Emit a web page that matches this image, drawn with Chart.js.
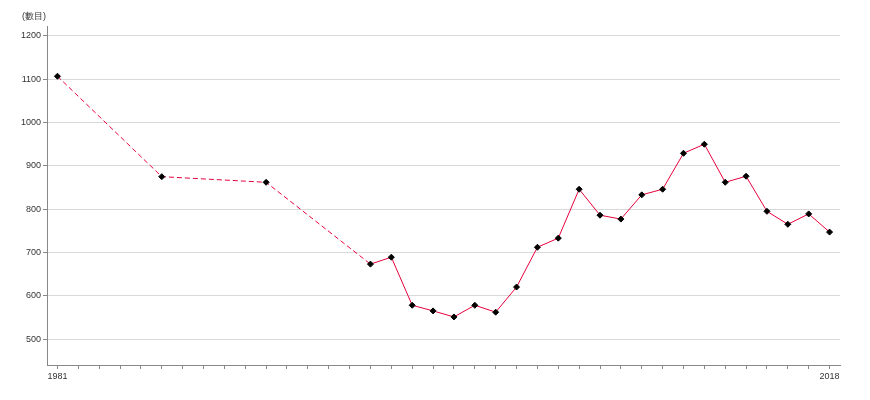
<!DOCTYPE html>
<html>
<head>
<meta charset="utf-8">
<script src="https://cdn.jsdelivr.net/npm/chart.js@4"></script>
<style>
html,body{margin:0;padding:0;background:#fff;}
#wrap{position:relative;width:870px;height:400px;}
</style>
</head>
<body>
<div id="wrap"><canvas id="c" width="870" height="400"></canvas></div>
<script>
const years = [1981, 1986, 1991, 1996, 1997, 1998, 1999, 2000, 2001, 2002, 2003, 2004, 2005, 2006, 2007, 2008, 2009, 2010, 2011, 2012, 2013, 2014, 2015, 2016, 2017, 2018];
const values = [1107, 875, 862, 673, 689, 578, 565, 551, 578, 562, 620, 712, 733, 846, 786, 777, 833, 846, 929, 950, 862, 876, 795, 765, 789, 747];
const yTicks = [500, 600, 700, 800, 900, 1000, 1100, 1200];
const xLabels = [1981, 2018];
const unitLabel = '(數目)';

const FONT = 'Liberation Sans';
const points = years.map((y, i) => ({x: y, y: values[i]}));
const allYears = [];
for (let y = years[0]; y <= years[years.length - 1]; y++) allYears.push(y);

const unitPlugin = {
  id: 'unit',
  afterDraw(chart) {
    const ctx = chart.ctx;
    ctx.save();
    ctx.font = '9px "' + FONT + '"';
    ctx.fillStyle = '#333';
    ctx.textAlign = 'left';
    ctx.textBaseline = 'middle';
    ctx.fillText(unitLabel, 22, 17);
    ctx.restore();
  }
};

new Chart(document.getElementById('c'), {
  type: 'line',
  data: {
    datasets: [{
      data: points,
      borderColor: '#e8003d',
      borderWidth: 1,
      pointStyle: 'rectRot',
      pointRadius: 3,
      pointBackgroundColor: '#000',
      pointBorderColor: '#000',
      pointBorderWidth: 1,
      tension: 0,
      segment: {
        borderDash: ctx => (ctx.p1.parsed.x - ctx.p0.parsed.x > 1 ? [5, 3] : undefined)
      }
    }]
  },
  options: {
    responsive: false,
    animation: false,
    layout: {padding: {top: 26, right: 30, left: 0, bottom: 0}},
    plugins: {legend: {display: false}, tooltip: {enabled: false}},
    scales: {
      x: {
        type: 'linear',
        min: 1980.5,
        max: 2018.5,
        afterBuildTicks: s => { s.ticks = allYears.map(v => ({value: v})); },
        afterFit: s => { s.height = 35; },
        grid: {drawOnChartArea: false, drawTicks: true, tickLength: 4, color: '#888'},
        border: {color: '#888', width: 1},
        ticks: {
          autoSkip: false,
          maxRotation: 0,
          padding: 2,
          color: '#333',
          font: {family: FONT, size: 9},
          callback: v => (xLabels.includes(v) ? String(v) : '')
        }
      },
      y: {
        min: 440,
        max: 1223,
        afterBuildTicks: s => { s.ticks = yTicks.map(v => ({value: v})); },
        afterFit: s => { s.width = 47; },
        grid: {color: '#d9d9d9', tickLength: 4, tickColor: '#888'},
        border: {color: '#888', width: 1},
        ticks: {
          padding: 2,
          color: '#333',
          font: {family: FONT, size: 9},
          callback: v => String(v)
        }
      }
    }
  },
  plugins: [unitPlugin]
});
</script>
</body>
</html>
